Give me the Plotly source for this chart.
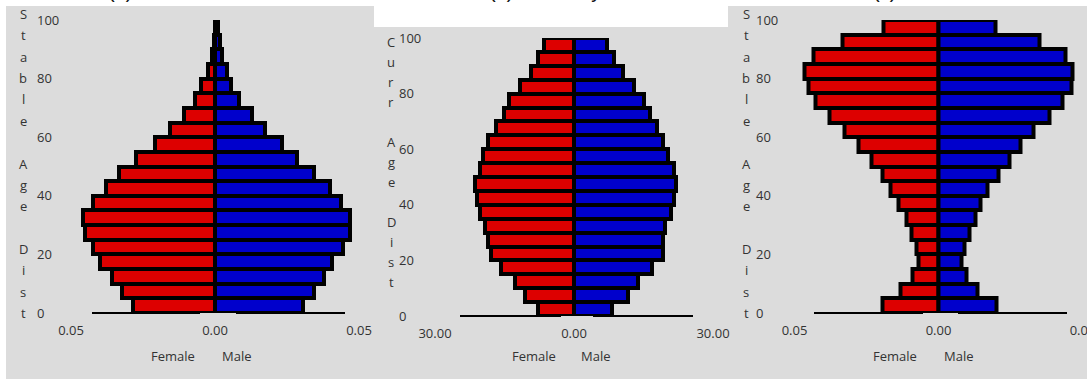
import plotly.graph_objects as go

W, H = 1087, 379

# ---------------- data ----------------
age_lower = [0, 5, 10, 15, 20, 25, 30, 35, 40, 45, 50, 55, 60, 65, 70, 75, 80, 85, 90, 95]
y_ticks = [0, 20, 40, 60, 80, 100]
y_ticktext = ["0", "20", "40", "60", "80", "100"]

# (a) stable age distribution (proportions)
female_a = [0.0284, 0.0322, 0.0357, 0.0398, 0.0422, 0.0453, 0.0460, 0.0422, 0.0377, 0.0332,
            0.0273, 0.0210, 0.0155, 0.0109, 0.0071, 0.0047, 0.0026, 0.0009, 0.0003, 0.0001]
male_a = [0.0304, 0.0342, 0.0377, 0.0405, 0.0443, 0.0470, 0.0470, 0.0436, 0.0398, 0.0342,
          0.0286, 0.0231, 0.0175, 0.0127, 0.0082, 0.0054, 0.0040, 0.0026, 0.0019, 0.0012]
x_ticktext_a = ["0.05", "0.00", "0.05"]

# (b) current age distribution (counts)
female_b = [7.7, 10.6, 12.8, 15.8, 18.0, 18.5, 19.3, 20.3, 20.9, 21.4,
            20.3, 19.6, 18.5, 16.9, 15.2, 14.1, 11.7, 9.3, 7.7, 6.5]
male_b = [8.2, 11.6, 13.9, 16.8, 19.1, 19.1, 19.7, 20.9, 21.5, 22.0,
          21.5, 20.2, 19.1, 18.0, 16.3, 15.2, 12.9, 10.5, 8.7, 7.1]
x_ticktext_b = ["30.00", "0.00", "30.00"]

# (c) stable age distribution (proportions)
female_c = [0.0195, 0.0132, 0.0091, 0.0070, 0.0076, 0.0094, 0.0111, 0.0140, 0.0167, 0.0194,
            0.0233, 0.0279, 0.0325, 0.0380, 0.0426, 0.0452, 0.0464, 0.0435, 0.0333, 0.0190]
male_c = [0.0200, 0.0135, 0.0098, 0.0079, 0.0089, 0.0108, 0.0130, 0.0145, 0.0171, 0.0208,
          0.0245, 0.0284, 0.0330, 0.0385, 0.0432, 0.0461, 0.0466, 0.0440, 0.0350, 0.0199]
x_ticktext_c = ["0.05", "0.00", "0.05"]

titles = ["(a) Stable", "(b) Current year", "(c) Stable"]
ylabels = ["Stable Age Dist", "Curr Age Dist", "Stable Age Dist"]

# ---------------- styling / layout ----------------
RED = "#dd0000"
BLUE = "#0000cc"
GRAY = "#dcdcdc"
TXT = "#333333"
FONT = "Open Sans"


def px(x):
    return x / W


def py(y):
    return 1 - y / H


panels = [
    dict(f=female_a, m=male_a, rng=0.05, tt=x_ticktext_a, xdom=(71, 359), ydom=(313, 20),
         ypos=33, bg=(6, 6, 374, 379), base=[(92, 200), (236, 345)], basey=313,
         title=titles[0], tx=107, ylab=ylabels[0], lx=23, ly0=14, lstep=21.36,
         fem_x=173, male_x=237, lab_y=356),
    dict(f=female_b, m=male_b, rng=30, tt=x_ticktext_b, xdom=(435, 713), ydom=(316, 38),
         ypos=395, bg=(374, 27, 728, 379), base=[(460, 561), (593, 693)], basey=316,
         title=titles[1], tx=488, ylab=ylabels[1], lx=391, ly0=42, lstep=20,
         fem_x=534, male_x=596, lab_y=356),
    dict(f=female_c, m=male_c, rng=0.05, tt=x_ticktext_c, xdom=(794.5, 1082.5), ydom=(313, 20),
         ypos=752, bg=(728, 6, 1087, 379), base=[(814, 923), (958, 1067)], basey=313,
         title=titles[2], tx=872, ylab=ylabels[2], lx=746, ly0=14, lstep=21.36,
         fem_x=895, male_x=959, lab_y=356),
]

fig = go.Figure()
shapes = []
annotations = []
layout_axes = {}
age_mid = [a + 2.5 for a in age_lower]

for i, p in enumerate(panels):
    n = "" if i == 0 else str(i + 1)
    xa, ya = "x" + n, "y" + n
    # background panel
    x0, y0, x1, y1 = p["bg"]
    shapes.append(dict(type="rect", xref="paper", yref="paper", layer="below",
                       x0=px(x0), x1=px(x1), y0=py(y1), y1=py(y0),
                       fillcolor=GRAY, line=dict(width=0)))
    # bars
    fig.add_trace(go.Bar(x=[-v for v in p["f"]], y=age_mid, orientation="h", width=5,
                         marker=dict(color=RED, line=dict(color="black", width=4)),
                         xaxis=xa, yaxis=ya, showlegend=False, name="Female"))
    fig.add_trace(go.Bar(x=p["m"], y=age_mid, orientation="h", width=5,
                         marker=dict(color=BLUE, line=dict(color="black", width=4)),
                         xaxis=xa, yaxis=ya, showlegend=False, name="Male"))
    r = p["rng"]
    layout_axes["xaxis" + n] = dict(
        domain=[px(p["xdom"][0]), px(p["xdom"][1])], range=[-r, r], anchor=ya,
        tickvals=[-r, 0, r], ticktext=p["tt"], showgrid=False, zeroline=False,
        showline=False, ticks="outside", ticklen=5, tickcolor="rgba(0,0,0,0)",
        automargin=False, ticklabeloverflow="allow",
        tickfont=dict(family=FONT, size=13, color=TXT))
    layout_axes["yaxis" + n] = dict(
        domain=[py(p["ydom"][0]), py(p["ydom"][1])], range=[0, 100], anchor="free",
        position=px(p["ypos"]), tickvals=y_ticks, ticktext=y_ticktext,
        ticklabelposition="inside", ticklabeloverflow="allow", ticks="",
        showgrid=False, zeroline=False, showline=False, automargin=False,
        tickfont=dict(family=FONT, size=13, color=TXT))
    # baseline segments
    for (a, b) in p["base"]:
        shapes.append(dict(type="line", xref="paper", yref="paper",
                           x0=px(a), x1=px(b), y0=py(p["basey"]), y1=py(p["basey"]),
                           line=dict(color="black", width=2)))
    # stacked vertical y label
    for k, ch in enumerate(p["ylab"]):
        if ch == " ":
            continue
        annotations.append(dict(text=ch, xref="paper", yref="paper", showarrow=False,
                                x=px(p["lx"]), y=py(p["ly0"] + k * p["lstep"]),
                                xanchor="center", yanchor="middle",
                                font=dict(family=FONT, size=13, color=TXT)))
    # Female / Male labels
    for txt, xx in (("Female", p["fem_x"]), ("Male", p["male_x"])):
        annotations.append(dict(text=txt, xref="paper", yref="paper", showarrow=False,
                                x=px(xx), y=py(p["lab_y"]), xanchor="center", yanchor="middle",
                                font=dict(family=FONT, size=13, color=TXT)))
    # title (mostly cut off at the top of the image, as in the reference)
    annotations.append(dict(text=p["title"], xref="paper", yref="paper", showarrow=False,
                            x=px(p["tx"]), y=py(3.5), xanchor="left", yanchor="bottom",
                            borderpad=0, font=dict(family="Liberation Sans", size=20, color="#111111")))

fig.update_layout(
    width=W, height=H, margin=dict(l=0, r=0, t=0, b=0, pad=0, autoexpand=False),
    paper_bgcolor="white", plot_bgcolor="rgba(0,0,0,0)",
    barmode="overlay", bargap=0,
    shapes=shapes, annotations=annotations,
    font=dict(family=FONT, size=13, color=TXT),
    **layout_axes,
)

fig.write_html("out.html")
